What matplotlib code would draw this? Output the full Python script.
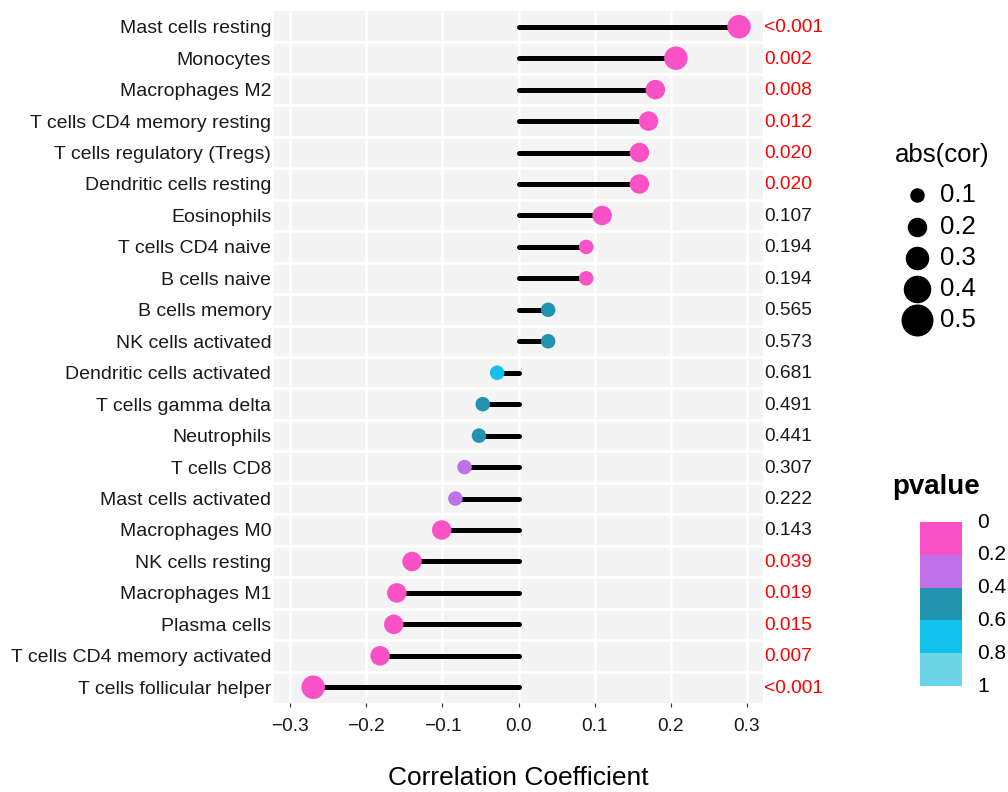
import matplotlib
matplotlib.use("Agg")
import matplotlib.pyplot as plt
from matplotlib.patches import Rectangle
import matplotlib.transforms as mtransforms
import numpy as np

plt.rcParams['font.family'] = ['Liberation Sans', 'DejaVu Sans']

cells = ["Mast cells resting", "Monocytes", "Macrophages M2", "T cells CD4 memory resting",
         "T cells regulatory (Tregs)", "Dendritic cells resting", "Eosinophils",
         "T cells CD4 naive", "B cells naive", "B cells memory", "NK cells activated",
         "Dendritic cells activated", "T cells gamma delta", "Neutrophils", "T cells CD8",
         "Mast cells activated", "Macrophages M0", "NK cells resting", "Macrophages M1",
         "Plasma cells", "T cells CD4 memory activated", "T cells follicular helper"]
cor = [0.290, 0.207, 0.180, 0.171, 0.159, 0.159, 0.110, 0.089, 0.089, 0.039, 0.039,
       -0.028, -0.047, -0.052, -0.071, -0.083, -0.101, -0.140, -0.160, -0.164, -0.182, -0.270]
pvalue = [0.0005, 0.002, 0.008, 0.012, 0.020, 0.020, 0.107, 0.194, 0.194, 0.565, 0.573,
          0.681, 0.491, 0.441, 0.307, 0.222, 0.143, 0.039, 0.019, 0.015, 0.007, 0.0005]
x_ticks = [-0.3, -0.2, -0.1, 0.0, 0.1, 0.2, 0.3]
size_breaks = [0.1, 0.2, 0.3, 0.4, 0.5]
p_breaks = [0, 0.2, 0.4, 0.6, 0.8, 1]
p_colors = ["#F952C6", "#C070E8", "#2192B0", "#12C2EA", "#6DD5E8"]

# styling
size_px = [14.5, 19.5, 23.5, 27.5, 32.0]   # diameters in px per size bin
DPI = 100

def size_of(v):
    a = abs(v)
    idx = min(int(np.ceil(a / 0.1 - 1e-9)) - 1, 4)
    idx = max(idx, 0)
    d = size_px[idx] * 72 / DPI
    return d ** 2

def color_of(p):
    idx = min(int(p / 0.2), 4)
    return p_colors[idx]

fig = plt.figure(figsize=(1008 / DPI, 792 / DPI), dpi=DPI)
L, R, T, B = 274, 763, 11, 703
ax = fig.add_axes([L / 1008, 1 - B / 792, (R - L) / 1008, (B - T) / 792])
ax.set_facecolor("#F4F4F4")
n = len(cells)
y = np.arange(n)[::-1]
ax.set_xlim(-0.3215, 0.3215)
ax.set_ylim(-0.5, n - 0.5)

for xt in x_ticks:
    ax.axvline(xt, color="white", lw=1.8, zorder=1)
for k in range(n - 1):
    ax.axhline(k + 0.5, color="white", lw=2.0, zorder=1)

for yi, c, p in zip(y, cor, pvalue):
    ax.plot([0, c], [yi, yi], color="black", lw=3.6, solid_capstyle="round", zorder=2)
ax.scatter(cor, y, s=[size_of(c) for c in cor], c=[color_of(p) for p in pvalue],
           zorder=3, linewidths=0)

trans = mtransforms.blended_transform_factory(ax.transAxes, ax.transData)
for yi, p in zip(y, pvalue):
    lab = "<0.001" if p < 0.001 else f"{p:.3f}"
    ax.text(1.003, yi - 0.03, lab, transform=trans, ha="left", va="center", fontsize=13.8,
            color="#FF0000" if p < 0.05 else "#1A1A1A", clip_on=False)

ax.set_xticks(x_ticks)
ax.set_xticklabels([f"{t:.1f}".replace("-", "\u2212") for t in x_ticks])
ax.set_yticks(y)
ax.set_yticklabels(cells)
ax.tick_params(axis="x", labelsize=13.8, color="#333333", length=3, width=0.8,
               labelcolor="#1A1A1A", pad=8)
ax.tick_params(axis="y", labelsize=14, length=0, pad=2, labelcolor="#1A1A1A")
for s in ax.spines.values():
    s.set_visible(False)
ax.set_xlabel("Correlation Coefficient", fontsize=19, labelpad=22)

# legends in pixel-coordinate overlay
ov = fig.add_axes([0, 0, 1, 1], zorder=5)
ov.set_xlim(0, 1008)
ov.set_ylim(792, 0)
ov.axis("off")
ov.patch.set_alpha(0)

ov.text(942, 155, "abs(cor)", ha="center", va="center", fontsize=18.5)
ly = [195, 227, 258, 289, 320]
for yy, b, d in zip(ly, size_breaks, size_px):
    ov.scatter([917], [yy], s=(d * 72 / DPI) ** 2, color="black", linewidths=0)
    ov.text(940, yy, f"{b:.1f}", ha="left", va="center", fontsize=18.5)

ov.text(936, 487, "pvalue", ha="center", va="center", fontsize=20, fontweight="bold")
cb_top, cb_bot = 522, 686
h = (cb_bot - cb_top) / 5
for k, col in enumerate(p_colors):
    ov.add_patch(Rectangle((920, cb_top + k * h), 42, h, color=col, lw=0))
for k, b in enumerate(p_breaks):
    ov.text(977, cb_top + k * h, f"{b:g}", ha="left", va="center", fontsize=15)

fig.savefig("out.png", dpi=DPI)
